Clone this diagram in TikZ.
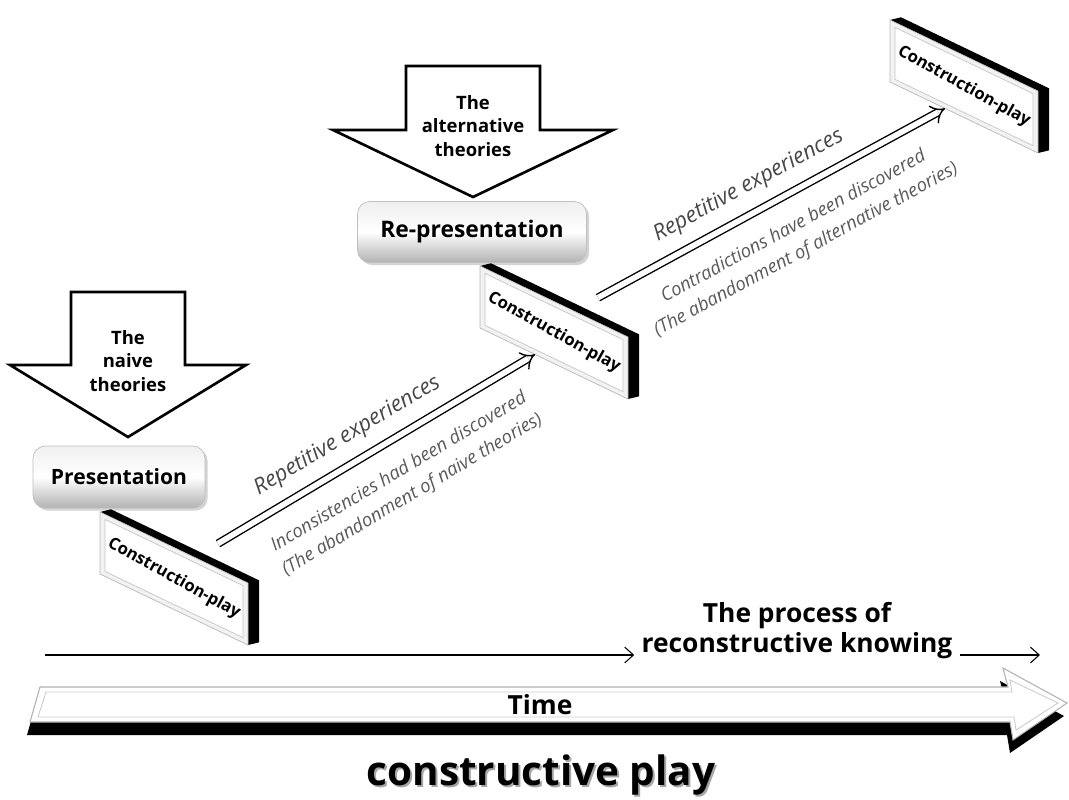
\documentclass[tikz,border=0pt]{standalone}
\usepackage{fontspec}
\setmainfont{Open Sans}
\usetikzlibrary{arrows.meta,shadows,positioning}

\tikzset{
  theory/.style={draw, line width=1.5pt, fill=white, line join=miter},
  theorytext/.style={font=\bfseries\fontsize{10.5}{13.5}\selectfont, align=center},
  stage/.style={rounded corners=7pt, draw=gray!50, top color=gray!12, bottom color=gray!60, middle color=white,
    drop shadow={shadow xshift=1.5pt, shadow yshift=-1.5pt, opacity=0.35}, inner sep=0pt},
  platetext/.style={font=\bfseries\fontsize{9.5}{11}\selectfont, rotate=-29},
  repline/.style={double, double distance=3.2pt, line width=0.8pt, -{Implies}},
  reptext/.style={font=\itshape\fontsize{12.5}{14}\selectfont, text=black!72, sloped},
  findtext/.style={font=\itshape\fontsize{10.5}{15}\selectfont, text=black!65, sloped, align=center},
  flowline/.style={line width=0.6pt, -{Straight Barb[length=5pt,width=9pt]}},
}

% slanted construction-play plate: name, x, y of top left corner
\newcommand{\cplay}[3]{%
  \begin{scope}[shift={(#2,#3)}, yslant=-0.48]
    \fill[black] (0,0) -- (11,-8) -- (159,-8) -- (159,54) -- (148,62) -- (148,0) -- cycle;
    \draw[gray!55, fill=gray!10] (0,0) rectangle (148,62);
    \draw[gray!45, fill=white] (5,5) rectangle (143,57);
    \node[platetext] (#1) at (74,31) {Construction-play};
    \coordinate (#1-in) at (55,62);
    \coordinate (#1-out) at (118,-25);
  \end{scope}}

\begin{document}
\begin{tikzpicture}[x=0.02cm, y=-0.02cm]
\useasboundingbox (0,0) rectangle (1069,799);

% theories coming down
\draw[theory] (71,292) -- (185,292) -- (185,365) -- (246,365) -- (128,437) -- (10,365) -- (71,365) -- cycle;
\node[theorytext] (naive) at (128,361) {The\\naive\\theories};
\draw[theory] (406,66) -- (540,66) -- (540,130) -- (613,130) -- (473,197) -- (333,130) -- (406,130) -- cycle;
\node[theorytext] (alter) at (473,126) {The\\alternative\\theories};

% stages
\node[stage, minimum width=3.44cm, minimum height=1.24cm, font=\bfseries\fontsize{12}{14}\selectfont] (pres) at (119,477) {Presentation};
\node[stage, minimum width=4.58cm, minimum height=1.22cm, font=\bfseries\fontsize{13}{15}\selectfont] (repres) at (472,232) {Re-presentation};

% plates
\cplay{cp1}{100}{512}
\cplay{cp2}{480}{266}
\cplay{cp3}{890}{20}

% repetitive experiences
\draw[repline] (cp1-out) -- (cp2-in)
  node[reptext, pos=0.45, above=5pt] (rep1) {Repetitive experiences}
  node[findtext, pos=0.52, below=9pt] (find1) {Inconsistencies had been discovered\\(The abandonment of naive theories)};
\draw[repline] (cp2-out) -- (cp3-in)
  node[reptext, pos=0.47, above=5pt] (rep2) {Repetitive experiences}
  node[findtext, pos=0.52, below=9pt] (find2) {Contradictions have been discovered\\(The abandonment of alternative theories)};

% process of knowing
\node[font=\bfseries\fontsize{15}{17}\selectfont, align=center, inner sep=4pt] (process) at (797,631) {The process of\\reconstructive knowing};
\coordinate (pstart) at (45,655);
\coordinate (pend) at (1040,655);
\draw[flowline] (pstart) -- (pstart -| process.west);
\draw[flowline] (process.east |- pend) -- (pend);

% time arrow
\fill[black] (37,700) -- (1005,700) -- (1000,681) -- (1064,716) -- (1010,753) -- (1007,735) -- (27,735) -- cycle;
\draw[gray!60, fill=white, line width=0.6pt] (40,687) -- (1008,687) -- (1003,668) -- (1067,703) -- (1013,740) -- (1010,722) -- (30,722) -- cycle;
\draw[gray!40, line width=0.5pt] (46,692) -- (1012,692) -- (1010,680) -- (1058,703) -- (1016,730) -- (1014,717) -- (38,717) -- cycle;
\node[font=\bfseries\fontsize{15}{17}\selectfont] (time) at (540,705) {Time};

% title
\node[font=\bfseries\fontsize{23}{26}\selectfont, text=black!35] (titleshade) at (543,777) {constructive play};
\node[font=\bfseries\fontsize{23}{26}\selectfont] (title) at (541,775) {constructive play};
\end{tikzpicture}
\end{document}
